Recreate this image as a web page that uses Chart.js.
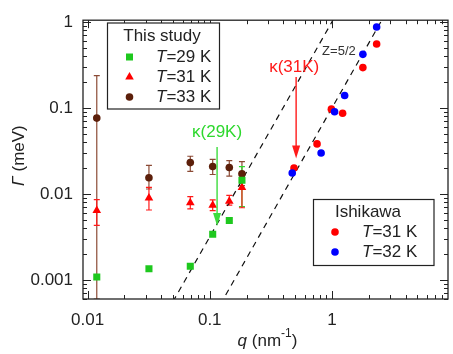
<!DOCTYPE html>
<html>
<head>
<meta charset="utf-8">
<script src="https://cdn.jsdelivr.net/npm/chart.js@4.4.1/dist/chart.umd.min.js"></script>
<style>
  html, body { margin: 0; padding: 0; background: #fff; }
</style>
</head>
<body>
<canvas id="graphCanvas" width="453" height="354"></canvas>
<script>
// This study: q (nm^-1) and linewidth Gamma (meV)
const qStudy = [0.0119, 0.0318, 0.0693, 0.1057, 0.1445, 0.1834];
const gamma29 = [0.00108, 0.00135, 0.00144, 0.0034, 0.0049, 0.0144];
const gamma29Lo = [null, null, null, null, null, 0.0071];
const gamma29Hi = [null, null, null, null, null, 0.0208];
const gamma31 = [0.0064, 0.00895, 0.0079, 0.0074, 0.0082, 0.0119];
const gamma31Lo = [0.0043, 0.0065, 0.0067, 0.0064, 0.0074, 0.0069];
const gamma31Hi = [0.0086, 0.0119, 0.0093, 0.0085, 0.0096, 0.0162];
const gamma33 = [0.076, 0.0154, 0.0231, 0.0208, 0.0203, 0.0171];
const gamma33Lo = [0.0006, 0.0114, 0.0183, 0.0168, 0.0161, 0.0125];
const gamma33Hi = [0.237, 0.0214, 0.0274, 0.0252, 0.0244, 0.0237];

// Ishikawa data
const qIshi31 = [0.489, 0.755, 0.989, 1.222, 1.79, 2.32];
const gammaIshi31 = [0.0200, 0.0381, 0.0966, 0.0865, 0.294, 0.552];
const qIshi32 = [0.473, 0.815, 1.05, 1.27, 1.79, 2.32];
const gammaIshi32 = [0.0175, 0.0299, 0.0902, 0.139, 0.419, 0.871];

// Z=5/2 guide lines (end points, clipped by the plot area)
const guideQ1 = [0.05, 1.1];
const guideG1 = [0.00056, 1.27];
const guideQ2 = [0.11, 2.6];
const guideG2 = [0.0004, 1.09];

// tick labels
const xTickLabels = [0.01, 0.1, 1];
const yTickLabels = [0.001, 0.01, 0.1, 1];

// arrows and notes (data coordinates)
const arrows = [
    { q: 0.1148, from: 0.035, to: 0.00423, color: '#3ddc3d' },
    { q: 0.509, from: 0.229, to: 0.0258, color: '#ff1a1a' }
];
const notes = [
    { text: 'κ(29K)', q: 0.1148, g: 0.0515, color: '#2ed82e', size: 17 },
    { text: 'κ(31K)', q: 0.491, g: 0.294, color: '#ff1a1a', size: 17 },
    { text: 'Z=5/2', q: 1.14, g: 0.453, color: '#333', size: 13 }
];

const FONT = '"Liberation Sans", Arial, Helvetica, sans-serif';
const GREEN = '#1ec81e', RED = '#ff0000', BROWN = '#5c1f0a', BLUE = '#0000ff';

const toPts = (xs, ys) => xs.map((x, i) => ({ x: x, y: ys[i] }));

const errorSets = [
    { q: qStudy, lo: gamma33Lo, hi: gamma33Hi, color: '#8b4a35' },
    { q: qStudy, lo: gamma29Lo, hi: gamma29Hi, color: '#2ed82e' },
    { q: qStudy, lo: gamma31Lo, hi: gamma31Hi, color: '#ff1a1a' }
];

// error bars under the markers
const errorBars = {
    id: 'errorBars',
    beforeDatasetsDraw(chart) {
        const { ctx, chartArea, scales: { x, y } } = chart;
        ctx.save();
        ctx.beginPath();
        ctx.rect(chartArea.left, chartArea.top, chartArea.width, chartArea.height);
        ctx.clip();
        ctx.lineWidth = 1.2;
        errorSets.forEach(set => {
            ctx.strokeStyle = set.color;
            set.q.forEach((q, i) => {
                if (set.lo[i] == null) return;
                const px = x.getPixelForValue(q);
                const p1 = y.getPixelForValue(set.hi[i]);
                const p2 = y.getPixelForValue(set.lo[i]);
                ctx.beginPath();
                ctx.moveTo(px, p1); ctx.lineTo(px, p2);
                ctx.moveTo(px - 3, p1); ctx.lineTo(px + 3, p1);
                ctx.moveTo(px - 3, p2); ctx.lineTo(px + 3, p2);
                ctx.stroke();
            });
        });
        ctx.restore();
    }
};

const logTicks = (min, max) => {
    const out = [];
    for (let e = Math.floor(Math.log10(min)); e <= Math.ceil(Math.log10(max)); e++) {
        for (let m = 1; m <= 9; m++) {
            const v = m * Math.pow(10, e);
            if (v >= min && v <= max) out.push({ v: v, major: m === 1 });
        }
    }
    return out;
};

function drawMarker(ctx, style, cx, cy, color) {
    ctx.fillStyle = color;
    ctx.beginPath();
    if (style === 'rect') {
        ctx.rect(cx - 3.5, cy - 3.5, 7, 7);
    } else if (style === 'triangle') {
        ctx.moveTo(cx, cy - 5);
        ctx.lineTo(cx + 4.3, cy + 2.5);
        ctx.lineTo(cx - 4.3, cy + 2.5);
        ctx.closePath();
    } else {
        ctx.arc(cx, cy, 3.8, 0, Math.PI * 2);
    }
    ctx.fill();
}

function drawLegend(ctx, box, title, entries) {
    ctx.fillStyle = '#fff';
    ctx.fillRect(box.x, box.y, box.w, box.h);
    ctx.strokeStyle = '#222';
    ctx.lineWidth = 1.2;
    ctx.strokeRect(box.x, box.y, box.w, box.h);
    ctx.fillStyle = '#222';
    ctx.font = '17px ' + FONT;
    ctx.textAlign = 'center';
    ctx.textBaseline = 'middle';
    ctx.fillText(title, box.titleX, box.titleY);
    entries.forEach(e => {
        drawMarker(ctx, e.style, box.markX, e.y, e.color);
        ctx.fillStyle = '#222';
        ctx.textAlign = 'left';
        ctx.font = 'italic 17px ' + FONT;
        ctx.fillText('T', box.textX, e.y);
        const w = ctx.measureText('T').width;
        ctx.font = '17px ' + FONT;
        ctx.fillText(e.text, box.textX + w, e.y);
    });
}

// frame, inward ticks, annotations, legends and axis titles
const decorations = {
    id: 'decorations',
    afterDatasetsDraw(chart) {
        const { ctx, chartArea: a, scales: { x, y } } = chart;
        ctx.save();

        // arrows
        arrows.forEach(ar => {
            const px = x.getPixelForValue(ar.q);
            const p1 = y.getPixelForValue(ar.from);
            const p2 = y.getPixelForValue(ar.to);
            ctx.strokeStyle = ar.color;
            ctx.fillStyle = ar.color;
            ctx.lineWidth = 1.4;
            ctx.beginPath();
            ctx.moveTo(px, p1); ctx.lineTo(px, p2 - 10);
            ctx.stroke();
            ctx.beginPath();
            ctx.moveTo(px, p2);
            ctx.lineTo(px - 4, p2 - 13);
            ctx.lineTo(px + 4, p2 - 13);
            ctx.closePath();
            ctx.fill();
        });

        // notes
        notes.forEach(n => {
            ctx.fillStyle = n.color;
            ctx.font = n.size + 'px ' + FONT;
            ctx.textAlign = 'center';
            ctx.textBaseline = 'middle';
            ctx.fillText(n.text, x.getPixelForValue(n.q), y.getPixelForValue(n.g));
        });

        // ticks
        ctx.strokeStyle = '#222';
        ctx.lineWidth = 1;
        ctx.beginPath();
        logTicks(x.min, x.max).forEach(t => {
            const px = Math.round(x.getPixelForValue(t.v)) + 0.5;
            const len = t.major ? 8 : 4;
            ctx.moveTo(px, a.bottom); ctx.lineTo(px, a.bottom - len);
            ctx.moveTo(px, a.top); ctx.lineTo(px, a.top + len);
        });
        logTicks(y.min, y.max).forEach(t => {
            const py = Math.round(y.getPixelForValue(t.v)) + 0.5;
            const len = t.major ? 8 : 4;
            ctx.moveTo(a.left, py); ctx.lineTo(a.left + len, py);
            ctx.moveTo(a.right, py); ctx.lineTo(a.right - len, py);
        });
        ctx.stroke();

        // frame
        ctx.lineWidth = 1.3;
        ctx.strokeRect(a.left, a.top, a.right - a.left, a.bottom - a.top);

        // legends
        drawLegend(ctx,
            { x: 107.5, y: 23, w: 112, h: 86, titleX: 162, titleY: 36, markX: 129.5, textX: 156 },
            'This study',
            [
                { style: 'rect', color: GREEN, y: 57, text: '=29 K' },
                { style: 'triangle', color: RED, y: 77, text: '=31 K' },
                { style: 'circle', color: BROWN, y: 97, text: '=33 K' }
            ]);
        drawLegend(ctx,
            { x: 313.5, y: 199.5, w: 120.5, h: 66, titleX: 368, titleY: 212.5, markX: 335, textX: 362 },
            'Ishikawa',
            [
                { style: 'circle', color: RED, y: 232, text: '=31 K' },
                { style: 'circle', color: BLUE, y: 252, text: '=32 K' }
            ]);

        // x axis title
        ctx.fillStyle = '#222';
        ctx.textBaseline = 'alphabetic';
        ctx.textAlign = 'left';
        const parts = [
            { t: 'q', f: 'italic 17px ' + FONT, dy: 0 },
            { t: ' (nm', f: '17px ' + FONT, dy: 0 },
            { t: '-1', f: '12px ' + FONT, dy: -9 },
            { t: ')', f: '17px ' + FONT, dy: 0 }
        ];
        let total = 0;
        parts.forEach(p => { ctx.font = p.f; p.w = ctx.measureText(p.t).width; total += p.w; });
        let cx = (a.left + a.right) / 2 + 2 - total / 2;
        parts.forEach(p => { ctx.font = p.f; ctx.fillText(p.t, cx, 346 + p.dy); cx += p.w; });

        // y axis title
        ctx.save();
        ctx.translate(24, (a.top + a.bottom) / 2 - 4);
        ctx.rotate(-Math.PI / 2);
        const yparts = [
            { t: 'Γ', f: 'italic 17px ' + FONT },
            { t: ' (meV)', f: '17px ' + FONT }
        ];
        let yt = 0;
        yparts.forEach(p => { ctx.font = p.f; p.w = ctx.measureText(p.t).width; yt += p.w; });
        let yx = -yt / 2;
        yparts.forEach(p => { ctx.font = p.f; ctx.fillText(p.t, yx, 0); yx += p.w; });
        ctx.restore();

        ctx.restore();
    }
};

const ctx = document.getElementById('graphCanvas').getContext('2d');
new Chart(ctx, {
    type: 'scatter',
    data: {
        datasets: [
            { label: 'T=29 K', data: toPts(qStudy, gamma29), pointStyle: 'rect', pointRadius: 5,
              backgroundColor: GREEN, borderColor: GREEN, borderWidth: 0, order: 1 },
            { label: 'T=31 K', data: toPts(qStudy, gamma31), pointStyle: 'triangle', pointRadius: 5,
              backgroundColor: RED, borderColor: RED, borderWidth: 0, order: 2 },
            { label: 'T=33 K', data: toPts(qStudy, gamma33), pointStyle: 'circle', pointRadius: 3.8,
              backgroundColor: BROWN, borderColor: BROWN, borderWidth: 0, order: 3 },
            { label: 'Ishikawa T=32 K', data: toPts(qIshi32, gammaIshi32), pointStyle: 'circle', pointRadius: 3.8,
              backgroundColor: BLUE, borderColor: BLUE, borderWidth: 0, order: 4 },
            { label: 'Ishikawa T=31 K', data: toPts(qIshi31, gammaIshi31), pointStyle: 'circle', pointRadius: 3.8,
              backgroundColor: RED, borderColor: RED, borderWidth: 0, order: 5 },
            { label: 'guide 1', data: toPts(guideQ1, guideG1), showLine: true, pointRadius: 0,
              borderColor: '#111', borderWidth: 1.2, borderDash: [6, 5], order: 6 },
            { label: 'guide 2', data: toPts(guideQ2, guideG2), showLine: true, pointRadius: 0,
              borderColor: '#111', borderWidth: 1.2, borderDash: [6, 5], order: 6 }
        ]
    },
    options: {
        responsive: false,
        animation: false,
        devicePixelRatio: 1,
        layout: { padding: { top: 12, right: 3, left: 0, bottom: 0 } },
        plugins: { legend: { display: false }, tooltip: { enabled: false } },
        scales: {
            x: {
                type: 'logarithmic',
                min: 0.00918,
                max: 8.9,
                afterBuildTicks: s => { s.ticks = xTickLabels.map(v => ({ value: v })); },
                afterFit: s => { s.height = 55; },
                grid: { display: false, drawTicks: false },
                border: { display: false },
                ticks: {
                    callback: v => String(v),
                    autoSkip: false,
                    maxRotation: 0,
                    padding: 11,
                    color: '#222',
                    font: { size: 17, family: FONT }
                }
            },
            y: {
                type: 'logarithmic',
                min: 0.00062,
                max: 1.045,
                afterBuildTicks: s => { s.ticks = yTickLabels.map(v => ({ value: v })); },
                afterFit: s => { s.width = 83; },
                grid: { display: false, drawTicks: false },
                border: { display: false },
                ticks: {
                    callback: v => String(v),
                    autoSkip: false,
                    padding: 10,
                    color: '#222',
                    font: { size: 17, family: FONT }
                }
            }
        }
    },
    plugins: [errorBars, decorations]
});
</script>
</body>
</html>
